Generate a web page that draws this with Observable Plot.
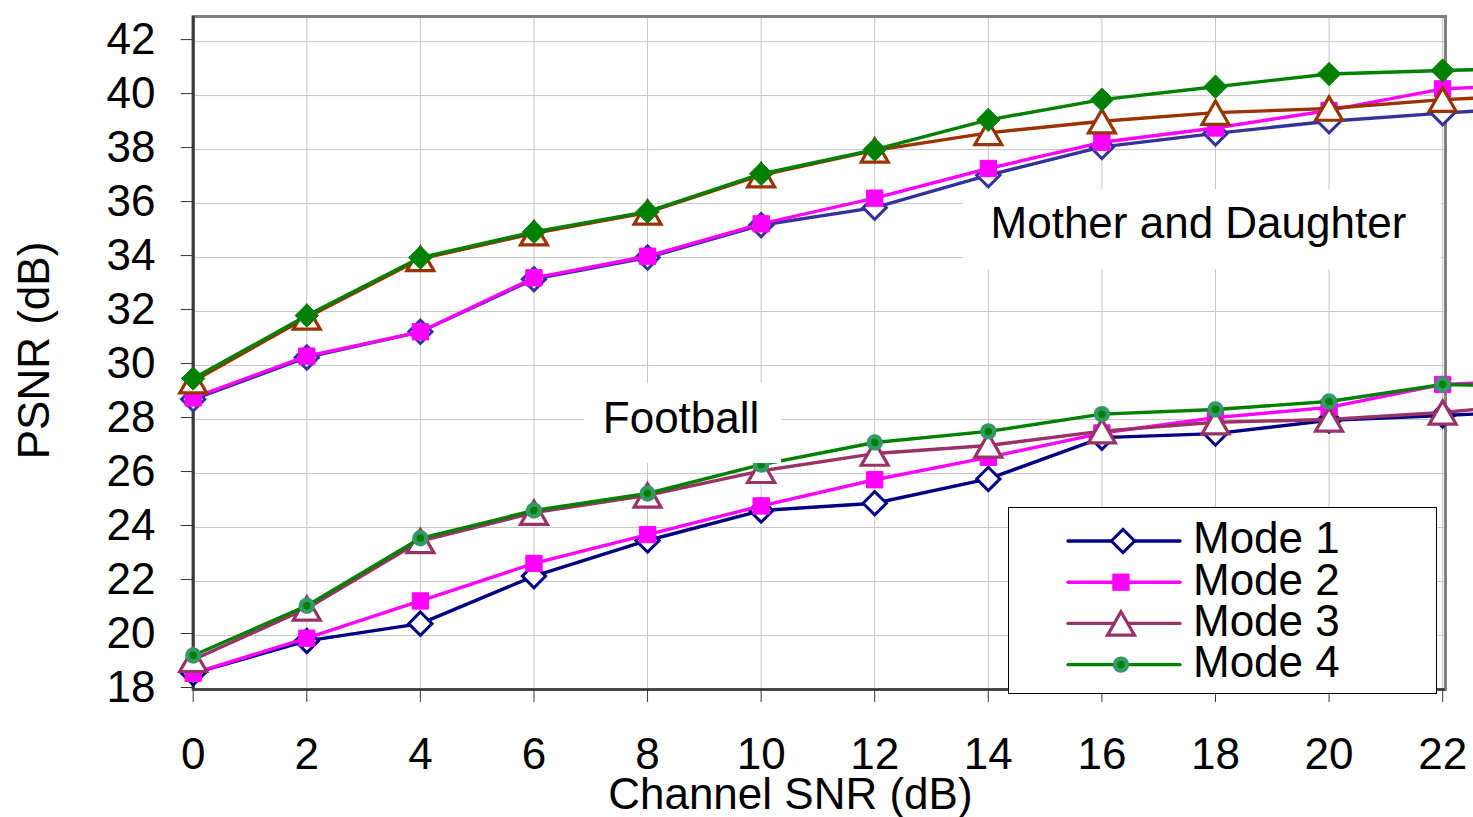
<!DOCTYPE html>
<html>
<head>
<meta charset="utf-8">
<script src="https://cdn.jsdelivr.net/npm/d3@7"></script>
<script src="https://cdn.jsdelivr.net/npm/@observablehq/plot@0.6"></script>
<style>
  html, body { margin: 0; padding: 0; background: #fff; }
  #chart { width: 1473px; height: 817px; overflow: hidden; }
  svg { display: block; }
</style>
</head>
<body>
<div id="chart"></div>
<script>
// ---------- data ----------
const snr = [0, 2, 4, 6, 8, 10, 12, 14, 16, 18, 20, 22];
const snrEdge = 22.54; // where the lines are cut by the picture's right edge

const mdMode1 = [28.75, 30.3, 31.25, 33.2, 34.0, 35.2, 35.85, 37.05, 38.1, 38.6, 39.05, 39.35];
const mdMode2 = [28.8, 30.35, 31.25, 33.25, 34.05, 35.25, 36.2, 37.3, 38.27, 38.8, 39.45, 40.25];
const mdMode3 = [29.42, 31.78, 33.95, 34.9, 35.67, 37.05, 37.97, 38.62, 39.05, 39.37, 39.52, 39.85];
const mdMode4 = [29.52, 31.85, 34.0, 34.95, 35.7, 37.1, 38.0, 39.1, 39.85, 40.33, 40.8, 40.93];
const mdEdge  = [39.42, 40.3, 39.9, 40.96];

const fbMode1 = [18.6, 19.8, 20.44, 22.2, 23.52, 24.63, 24.9, 25.8, 27.33, 27.48, 27.97, 28.15];
const fbMode2 = [18.6, 19.9, 21.28, 22.67, 23.74, 24.8, 25.77, 26.6, 27.5, 28.07, 28.45, 29.3];
const fbMode3 = [19.1, 21.0, 23.5, 24.55, 25.19, 26.1, 26.74, 27.04, 27.57, 27.9, 28.0, 28.26];
const fbMode4 = [19.26, 21.1, 23.6, 24.63, 25.26, 26.33, 27.15, 27.56, 28.2, 28.37, 28.67, 29.3];
const fbEdge  = [28.2, 29.35, 28.37, 29.28];

const modeNames = ["Mode 1", "Mode 2", "Mode 3", "Mode 4"];
const xTicks = [0, 2, 4, 6, 8, 10, 12, 14, 16, 18, 20, 22];
const yTicks = [18, 20, 22, 24, 26, 28, 30, 32, 34, 36, 38, 40, 42];
const sequenceLabels = ["Mother and Daughter", "Football"];
const xTitle = "Channel SNR (dB)";
const yTitle = "PSNR (dB)";

// ---------- styles ----------
const FONT = "'Liberation Sans', Arial, Helvetica, sans-serif";
const LW = 3.4;
const mdStyles = [
  {stroke: "#333399", symbol: "diamond2", fill: "white", r: 10.5, sw: 3},
  {stroke: "#ff00ff", symbol: "square", fill: "#ff00ff", r: 9.2, sw: 1},
  {stroke: "#993300", symbol: "triangle", fill: "white", r: 10, sw: 3.2, dy: 3.9},
  {stroke: "#008000", symbol: "diamond2", fill: "#008000", r: 10.5, sw: 1}
];
const fbStyles = [
  {stroke: "#000080", symbol: "diamond2", fill: "white", r: 10.5, sw: 3},
  {stroke: "#ff00ff", symbol: "square", fill: "#ff00ff", r: 9.2, sw: 1},
  {stroke: "#993366", symbol: "triangle", fill: "white", r: 10, sw: 3.2, dy: 3.9},
  {stroke: "#008000", symbol: "circle", fill: "#339966", r: 8.2, sw: 0, inner: "#008000"}
];

function seriesMarks(values, edge, style) {
  const pts = snr.map((x, i) => ({x, y: values[i]}));
  const linePts = pts.concat([{x: snrEdge, y: edge}]);
  const marks = [
    Plot.line(linePts, {x: "x", y: "y", stroke: style.stroke, strokeWidth: LW, curve: "linear"}),
    Plot.dot(pts, {x: "x", y: "y", symbol: style.symbol, r: style.r, fill: style.fill,
      stroke: style.sw > 0 ? style.stroke : "none", strokeWidth: style.sw, dy: style.dy || 0})
  ];
  if (style.inner) {
    marks.push(Plot.dot(pts, {x: "x", y: "y", symbol: "circle", r: 3.7, fill: style.inner, stroke: "none"}));
  }
  return marks;
}

const mdSeries = [mdMode1, mdMode2, mdMode3, mdMode4];
const fbSeries = [fbMode1, fbMode2, fbMode3, fbMode4];

const dataMarks = [];
mdSeries.forEach((s, i) => dataMarks.push(...seriesMarks(s, mdEdge[i], mdStyles[i])));
fbSeries.forEach((s, i) => dataMarks.push(...seriesMarks(s, fbEdge[i], fbStyles[i])));

const labelBoxes = [
  {x1: 13.56, x2: 21.98, y1: 33.56, y2: 36.52},
  {x1: 6.89, x2: 10.36, y1: 26.37, y2: 29.33}
];
const labelSpots = [
  {text: sequenceLabels[0], x: 17.70, y: 34.74},
  {text: sequenceLabels[1], x: 8.59, y: 27.52}
];

const plot = Plot.plot({
  width: 1473,
  height: 817,
  marginLeft: 192.7,
  marginRight: 28,
  marginTop: 16,
  marginBottom: 128,
  x: {domain: [0, 22.05]},
  y: {domain: [18, 42.93]},
  style: {fontFamily: FONT, fontSize: "44px", color: "black", background: "white", overflow: "visible"},
  marks: [
    Plot.gridX(xTicks, {stroke: "#c6c6c6", strokeOpacity: 1, strokeWidth: 1}),
    Plot.gridY(yTicks, {stroke: "#c6c6c6", strokeOpacity: 1, strokeWidth: 1}),
    Plot.frame({stroke: "#808080", strokeWidth: 3}),
    Plot.ruleX([0], {stroke: "#3c3c3c", strokeWidth: 3}),
    Plot.ruleY([18], {stroke: "#3c3c3c", strokeWidth: 2.5}),
    ...dataMarks,
    Plot.rect(labelBoxes, {x1: "x1", x2: "x2", y1: "y1", y2: "y2", fill: "white", inset: 0}),
    Plot.text(labelSpots, {x: "x", y: "y", text: "text", fontSize: 44, textAnchor: "middle", lineAnchor: "bottom", fill: "black"}),
    Plot.axisY({ticks: yTicks, tickSize: 12, tickPadding: 25.7, label: null, fontSize: 44, dy: -2, tickFormat: d => String(d), stroke: "#333"}),
    Plot.axisX({ticks: xTicks, tickSize: 13, tickPadding: 35, label: null, fontSize: 44, tickFormat: d => String(d), stroke: "#333"}),
    Plot.text([yTitle], {frameAnchor: "left", dx: -144.7, dy: -2.5, rotate: -90, textAnchor: "middle", lineAnchor: "bottom", fontSize: 44, fill: "black"}),
    Plot.text([xTitle], {frameAnchor: "bottom", dx: -29, dy: 119, textAnchor: "middle", lineAnchor: "bottom", fontSize: 44, fill: "black"})
  ]
});

document.getElementById("chart").appendChild(plot);

// ---------- legend (drawn into the same SVG) ----------
const svg = d3.select(plot);
const lg = svg.append("g").attr("font-family", FONT).attr("text-anchor", "start");
lg.append("rect")
  .attr("x", 1008.5).attr("y", 507.5).attr("width", 428).attr("height", 186)
  .attr("fill", "white").attr("stroke", "black").attr("stroke-width", 1);
const symMap = {diamond2: d3.symbolDiamond2, square: d3.symbolSquare, triangle: d3.symbolTriangle, circle: d3.symbolCircle};
modeNames.forEach((name, i) => {
  const st = fbStyles[i];
  const cy = 541 + i * 41.2;
  const g = lg.append("g");
  g.append("line").attr("x1", 1068).attr("x2", 1180).attr("y1", cy).attr("y2", cy)
    .attr("stroke", st.stroke).attr("stroke-width", LW).attr("stroke-linecap", "round");
  const mx = i === 0 ? 1123 : 1121;
  const path = d3.symbol(symMap[st.symbol], Math.PI * st.r * st.r)();
  g.append("path").attr("d", path)
    .attr("transform", `translate(${mx},${cy + (st.dy || 0)})`)
    .attr("fill", st.fill)
    .attr("stroke", st.sw > 0 ? st.stroke : "none")
    .attr("stroke-width", st.sw);
  if (st.inner) {
    g.append("circle").attr("cx", mx).attr("cy", cy).attr("r", 3.7).attr("fill", st.inner);
  }
  g.append("text").attr("x", 1193).attr("y", cy + 12.3)
    .attr("text-anchor", "start")
    .attr("font-size", 44).attr("fill", "black").text(name);
});
</script>
</body>
</html>
